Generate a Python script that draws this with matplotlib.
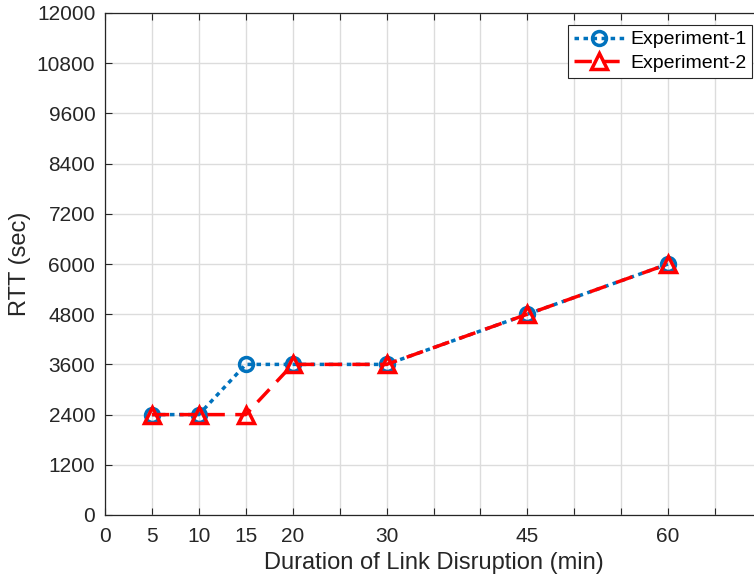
import numpy as np
import matplotlib.pyplot as plt

plt.rcParams['font.family'] = ['Liberation Sans', 'DejaVu Sans']

# data
duration = [5, 10, 15, 20, 30, 45, 60]
rtt_exp1 = [2400, 2400, 3600, 3600, 3600, 4800, 6000]
rtt_exp2 = [2400, 2400, 2400, 3600, 3600, 4800, 6000]
xtick_labels = {0: '0', 5: '5', 10: '10', 15: '15', 20: '20', 30: '30', 45: '45', 60: '60'}
yticks = np.arange(0, 12001, 1200)

blue = (0.0, 0.447, 0.741)
red = (1.0, 0.0, 0.0)

fig = plt.figure(figsize=(7.54, 5.85), dpi=100)
# the right edge of the axes lies just past the picture, as in the reference
ax = fig.add_axes([105 / 754, 70 / 585, (762 - 105) / 754, 502 / 585])

ax.plot(duration, rtt_exp1, linestyle=(0, (1.3, 1.3)), color=blue, linewidth=2.5,
        marker='o', markersize=10, markerfacecolor='none',
        markeredgewidth=2.5, label='Experiment-1')
ax.plot(duration, rtt_exp2, linestyle=(0, (5, 3)), color=red, linewidth=2.5,
        marker='^', markersize=11, markerfacecolor='none',
        markeredgewidth=2.5, label='Experiment-2')

ax.set_xlim(0, 70)
ax.set_ylim(0, 12000)
xt = np.arange(0, 66, 5)
ax.set_xticks(xt)
ax.set_xticklabels([xtick_labels.get(int(v), '') for v in xt])
ax.set_yticks(yticks)
ax.tick_params(direction='in', top=True, right=False, labelsize=15,
               colors='#262626', length=5, width=0.8)
ax.tick_params(axis='x', pad=9)
ax.tick_params(axis='y', pad=7)
ax.grid(True, color='#dcdcdc', linewidth=1.0)
ax.set_axisbelow(True)
ax.spines['right'].set_visible(False)
for side in ['left', 'top', 'bottom']:
    ax.spines[side].set_color('#262626')
    ax.spines[side].set_linewidth(0.9)

ax.set_xlabel('Duration of Link Disruption (min)', fontsize=17, color='#262626',
              labelpad=4)
ax.set_ylabel('RTT (sec)', fontsize=17, color='#262626', labelpad=4)

leg = ax.legend(loc='upper right', bbox_to_anchor=(752 / 754, (585 - 25) / 585),
                bbox_transform=fig.transFigure, fontsize=14, handlelength=2.6,
                fancybox=False, framealpha=1, edgecolor='#262626',
                borderpad=0.3, labelspacing=0.3, handletextpad=0.3,
                borderaxespad=0)
leg.get_frame().set_linewidth(0.8)

fig.savefig('out.png', dpi=100)
